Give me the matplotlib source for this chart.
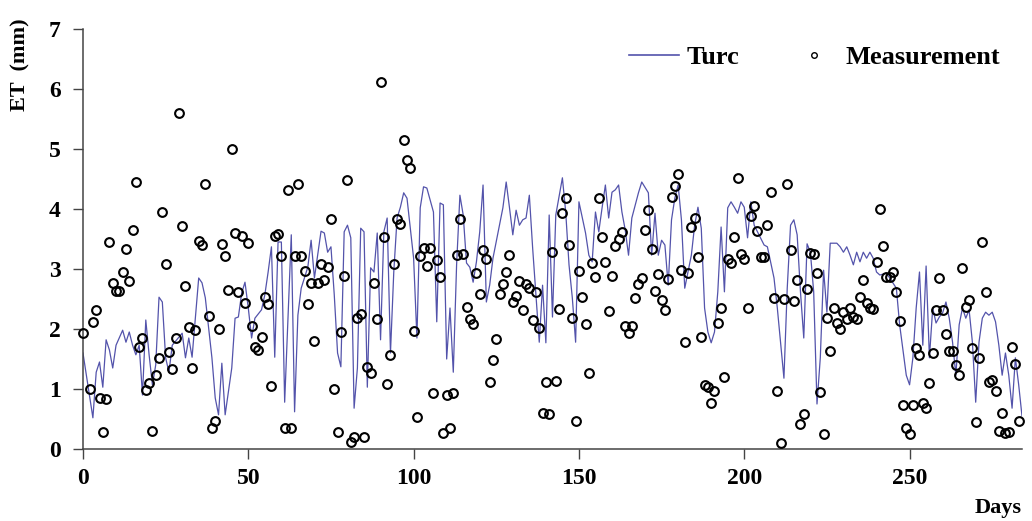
import numpy as np
import matplotlib
matplotlib.use('Agg')
import matplotlib.pyplot as plt
from matplotlib.lines import Line2D

# Turc estimate (day, ET mm)
turc_days = [0, 3, 4, 5, 6, 7, 8, 9, 10, 12, 13, 14, 15, 16, 17, 18, 19, 20, 21, 22,
             23, 24, 25, 26, 27, 30, 31, 32, 33, 35,
             36, 37, 39, 40, 41, 42, 43, 45, 46, 47, 48, 49, 50, 51, 52, 54, 55, 56, 57, 58,
             59, 60, 61, 63, 64, 65, 66, 68, 69, 70, 72,
             73, 74, 75, 76, 77, 78, 79, 80, 81, 82, 83, 84, 85, 86, 87, 88, 89, 90, 91, 92,
             93, 94, 95, 96, 97, 98, 100, 101, 102, 103, 104, 106, 107, 108,
             109, 110, 111, 112, 113, 114, 115, 116, 117, 118, 119, 120, 121, 122, 123, 124,
             127, 128, 129, 130, 131, 132, 133, 134, 135, 136, 138, 139, 140, 141, 142, 143,
             145, 146, 147, 148, 149, 150, 152, 153, 154, 155, 156, 157, 158, 159, 160, 161,
             162, 163, 164, 165, 166, 168, 169, 171, 172, 173, 174, 175, 176, 177, 178, 179, 180,
             181, 182, 184, 185, 186, 187, 188, 189, 190, 191, 192, 193, 194, 195, 196, 197,
             198, 199, 200, 201, 202, 203, 204, 206, 207, 209, 210, 212, 213, 214, 215, 216,
             217, 218, 219, 220, 221, 222, 223, 224, 225, 226, 228, 229, 230, 231, 232, 233,
             234, 235, 236, 237, 238, 239, 240, 241, 243, 244, 246, 247, 249, 250, 251, 252, 253,
             254, 255, 256, 257, 258, 259, 260, 261, 262, 263, 264, 265, 266, 267, 268, 269,
             270, 271, 272, 273, 274, 275, 276, 277, 278, 279, 280, 281, 282, 283, 284]
turc_et = [1.6, 0.52, 1.28, 1.45, 1.03, 1.82, 1.65, 1.35, 1.73, 1.98, 1.78, 1.95, 1.73, 1.57, 1.73, 0.9, 2.15, 1.57, 1.07, 1.4,
           2.53, 2.45, 1.52, 1.28, 1.73, 1.93, 1.52, 1.85, 1.53, 2.85,
           2.77, 2.52, 1.52, 0.85, 0.57, 1.43, 0.57, 1.35, 2.18, 2.2, 2.6, 2.78, 2.35, 1.85, 2.18, 2.32, 2.57, 2.95, 3.37, 1.53,
           3.45, 3.45, 0.78, 3.57, 0.62, 2.23, 2.68, 3.03, 3.48, 2.85, 3.63,
           3.6, 3.28, 3.37, 2.57, 1.6, 1.37, 3.62, 3.73, 3.52, 0.68, 1.35, 3.68, 3.62, 1.03, 3.02, 2.95, 3.6, 1.82, 3.62, 3.85,
           1.6, 2.95, 3.85, 4.03, 4.27, 4.18, 3.18, 1.85, 4.02, 4.37, 4.35, 3.95, 2.12, 4.1,
           4.07, 1.5, 2.35, 1.28, 3.07, 4.23, 3.9, 3.1, 3.03, 2.78, 3.12, 3.62, 4.4, 2.45, 2.73, 3.18,
           4.02, 4.45, 4.02, 3.57, 3.98, 3.73, 3.82, 3.85, 4.23, 3.35, 1.78, 2.73, 1.77, 3.9, 2.2, 3.9,
           4.52, 3.95, 3.07, 2.52, 1.78, 4.12, 3.6, 3.23, 3.12, 3.95, 3.62, 4.02, 4.4, 3.85, 4.28, 4.32,
           4.4, 3.95, 3.65, 3.23, 3.85, 4.27, 4.45, 4.27, 3.23, 3.93, 3.23, 3.48, 3.4, 2.73, 3.82, 4.18, 4.4,
           3.82, 2.68, 3.23, 3.73, 4.03, 3.68, 2.35, 1.95, 1.77, 1.95, 2.62, 3.7, 2.62, 4.02, 4.12, 4.03,
           3.93, 4.12, 4.03, 3.52, 4.12, 3.73, 3.62, 3.4, 3.37, 2.85, 2.35, 1.18, 2.68, 3.73, 3.82, 3.57,
           2.62, 1.85, 3.42, 3.28, 2.62, 0.75, 1.52, 2.98, 2.28, 3.43, 3.43, 3.37, 3.28, 3.37, 3.23, 3.07,
           3.28, 3.12, 3.28, 3.18, 3.28, 3.18, 2.95, 2.9, 2.93, 2.85, 2.68, 2.07, 1.23, 1.07, 1.52, 2.35, 2.95,
           1.73, 3.05, 1.52, 2.35, 2.1, 2.2, 2.27, 2.45, 2.18, 1.78, 1.23, 2.07, 2.35, 2.18, 2.32, 1.78,
           0.78, 1.78, 2.18, 2.28, 2.23, 2.28, 2.12, 1.73, 1.23, 1.6, 1.23, 0.68, 1.52, 1.07, 0.55]

# measured ET, one value per day from day 0 (nan = no reading)
meas_et = [1.93, np.nan, 1.0, 2.12, 2.31, 0.85, 0.28, 0.83, 3.45, 2.77,
           2.63, 2.63, 2.95, 3.33, 2.8, 3.65, 4.45, 1.7, 1.85, 0.98,
           1.1, 0.3, 1.23, 1.52, 3.95, 3.08, 1.62, 1.33, 1.85, 5.6,
           3.72, 2.72, 2.03, 1.35, 1.98, 3.47, 3.4, 4.42, 2.22, 0.35,
           0.47, 2.0, 3.42, 3.22, 2.65, 5.0, 3.6, 2.62, 3.55, 2.43,
           3.43, 2.05, 1.7, 1.65, 1.87, 2.53, 2.42, 1.05, 3.55, 3.58,
           3.22, 0.35, 4.32, 0.35, 3.22, 4.42, 3.22, 2.97, 2.42, 2.77,
           1.8, 2.77, 3.08, 2.82, 3.03, 3.83, 1.0, 0.28, 1.95, 2.88,
           4.48, 0.12, 0.2, 2.18, 2.25, 0.2, 1.37, 1.27, 2.77, 2.17,
           6.12, 3.53, 1.08, 1.57, 3.08, 3.83, 3.75, 5.15, 4.82, 4.68,
           1.97, 0.53, 3.22, 3.35, 3.05, 3.35, 0.93, 3.15, 2.87, 0.27,
           0.9, 0.35, 0.93, 3.23, 3.83, 3.25, 2.37, 2.17, 2.08, 2.93,
           2.58, 3.32, 3.17, 1.12, 1.48, 1.83, 2.58, 2.75, 2.95, 3.23,
           2.45, 2.55, 2.8, 2.32, 2.75, 2.68, 2.15, 2.62, 2.02, 0.6,
           1.12, 0.58, 3.28, 1.13, 2.33, 3.93, 4.18, 3.4, 2.18, 0.47,
           2.97, 2.53, 2.08, 1.27, 3.1, 2.87, 4.18, 3.53, 3.12, 2.3,
           2.88, 3.38, 3.5, 3.62, 2.05, 1.93, 2.05, 2.52, 2.75, 2.85,
           3.65, 3.98, 3.33, 2.63, 2.92, 2.48, 2.32, 2.83, 4.2, 4.38,
           4.58, 2.98, 1.78, 2.93, 3.7, 3.85, 3.2, 1.87, 1.07, 1.03,
           0.77, 0.97, 2.1, 2.35, 1.2, 3.17, 3.1, 3.53, 4.52, 3.25,
           3.17, 2.35, 3.88, 4.05, 3.63, 3.2, 3.2, 3.73, 4.28, 2.52,
           0.97, 0.1, 2.5, 4.42, 3.32, 2.47, 2.82, 0.42, 0.58, 2.67,
           3.27, 3.25, 2.93, 0.95, 0.25, 2.18, 1.63, 2.35, 2.1, 2.0,
           2.28, 2.17, 2.35, 2.2, 2.17, 2.53, 2.82, 2.43, 2.35, 2.33,
           3.12, 4.0, 3.38, 2.87, 2.87, 2.95, 2.62, 2.13, 0.73, 0.35,
           0.25, 0.73, 1.68, 1.57, 0.77, 0.68, 1.1, 1.6, 2.32, 2.85,
           2.32, 1.92, 1.63, 1.63, 1.4, 1.23, 3.02, 2.37, 2.48, 1.68,
           0.45, 1.52, 3.45, 2.62, 1.12, 1.15, 0.97, 0.3, 0.6, 0.27,
           0.28, 1.7, 1.42, 0.47]
meas_days = np.arange(len(meas_et))

plt.rcParams['font.family'] = ['Liberation Serif', 'DejaVu Serif']
plt.rcParams['font.weight'] = 'bold'

fig = plt.figure(figsize=(10.32, 5.21), dpi=100)
ax = fig.add_axes([0.0804, 0.1382, 0.9099, 0.8061])

line_col = '#5353ab'
ax.plot(turc_days, turc_et, color=line_col, lw=0.9, zorder=2)
ax.plot(meas_days, meas_et, ls='none', marker='o', ms=6.3, mfc='none',
        mec='black', mew=1.5, zorder=3, clip_on=False)

ax.set_xlim(0, 284)
ax.set_ylim(0, 7)
ax.set_xticks(range(0, 251, 50))
ax.set_yticks(range(0, 8))

for s in ['top', 'right']:
    ax.spines[s].set_visible(False)
for s in ['left', 'bottom']:
    ax.spines[s].set_color('#444444')
    ax.spines[s].set_linewidth(1.1)

ax.tick_params(axis='both', direction='out', length=7, width=1.0,
               color='#444444', labelsize=17)
ax.tick_params(axis='y', pad=9)
ax.tick_params(axis='x', pad=7)

ax.set_ylabel('ET  (mm)', fontsize=16, fontweight='bold', loc='top')
ax.yaxis.set_label_coords(-0.056, 1.026)
ax.set_xlabel('Days', fontsize=16, fontweight='bold', loc='right', labelpad=6)

handles = [Line2D([], [], color=line_col, lw=1.2),
           Line2D([], [], ls='none', marker='o', ms=4, mfc='none', mec='black', mew=1.0)]
ax.legend(handles, ['Turc', 'Measurement'], ncol=2, frameon=False,
          loc='center right', bbox_to_anchor=(1.0025, 0.933),
          fontsize=19, handlelength=1.9, handletextpad=0.28, columnspacing=1.88)

fig.savefig('out.png', dpi=100)
